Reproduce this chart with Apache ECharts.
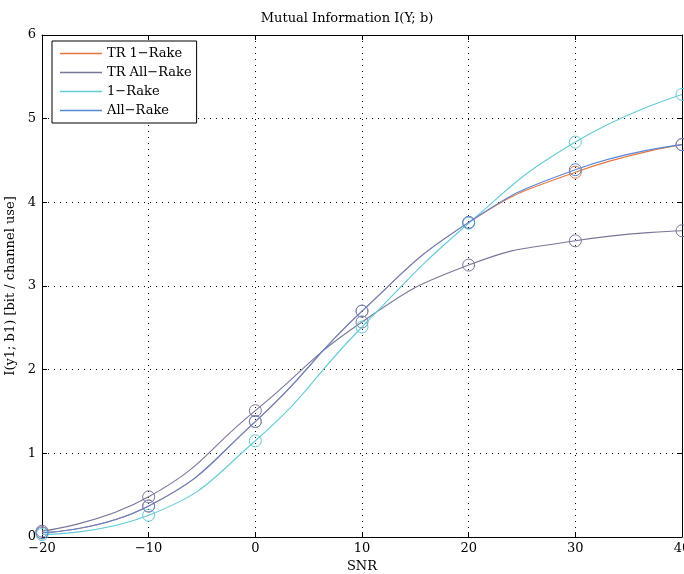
<!DOCTYPE html>
<html><head><meta charset="utf-8">
<script src="https://cdn.jsdelivr.net/npm/echarts@6/dist/echarts.min.js"></script>
<style>html,body{margin:0;padding:0;background:#fff}#c{width:684px;height:574px}</style>
</head><body><div id="c"></div>
<script>
const snr = [-20, -10, 0, 10, 20, 30, 40];
const tr1Rake   = [0.05, 0.37, 1.38, 2.70, 3.76, 4.36, 4.69];
const trAllRake = [0.07, 0.48, 1.51, 2.57, 3.25, 3.54, 3.66];
const oneRake   = [0.03, 0.26, 1.15, 2.51, 3.75, 4.72, 5.29];
const allRake   = [0.05, 0.37, 1.38, 2.70, 3.76, 4.39, 4.69];
const seriesNames = ['TR 1\u2212Rake', 'TR All\u2212Rake', '1\u2212Rake', 'All\u2212Rake'];
const seriesData = [tr1Rake, trAllRake, oneRake, allRake];
const colors = ['#e8763c', '#77779b', '#62cbd6', '#5a86d8'];

const font = 'DejaVu Serif';
const fs = 13;
const chart = echarts.init(document.getElementById('c'));
const series = seriesNames.map((n, i) => ({
  name: n, type: 'line', smooth: 0.5,
  data: snr.map((x, j) => [x, seriesData[i][j]]),
  symbol: 'circle', symbolSize: 12, showAllSymbol: true,
  lineStyle: { color: colors[i], width: 1.1 },
  itemStyle: { color: 'rgba(255,255,255,0)', borderColor: colors[i], borderWidth: 1 },
  emphasis: { disabled: true }, z: 3 + i
}));
const axisCommon = {
  axisLine: { show: true, onZero: false, lineStyle: { color: '#000', width: 1 } },
  axisTick: { show: true, inside: true, length: 5, lineStyle: { color: '#000' } },
};
chart.setOption({
  backgroundColor: '#fff',
  animation: false,
  title: { text: 'Mutual Information I(Y; b)', left: 342, top: 7, textAlign: 'center',
    textStyle: { fontFamily: font, fontSize: fs, fontWeight: 'normal', color: '#000' } },
  grid: { left: 42, right: 2, top: 35, bottom: 37, containLabel: false, outerBoundsMode: 'none' },
  legend: {
    left: 52, top: 41, orient: 'vertical', itemGap: 6,
    data: seriesNames.map((n, i) => ({ name: n, icon: 'rect', itemStyle: { color: colors[i], borderWidth: 0 } })),
    itemWidth: 42, itemHeight: 1.6, padding: [6, 5, 6, 8],
    backgroundColor: '#fff', borderColor: '#000', borderWidth: 1,
    textStyle: { fontFamily: font, fontSize: fs, color: '#000', padding: [0, 0, 0, 0] }
  },
  xAxis: [
    Object.assign({ type: 'value', min: -20, max: 40, interval: 10, position: 'bottom',
      name: 'SNR', nameLocation: 'middle', nameGap: 23,
      nameTextStyle: { fontFamily: font, fontSize: fs, color: '#000' },
      axisLabel: { fontFamily: font, fontSize: fs, color: '#000', margin: 5,
        formatter: v => (v < 0 ? '\u2212' + (-v) : '' + v) },
      splitLine: { show: true, lineStyle: { color: '#000', type: [1, 5], width: 1 } } }, axisCommon),
    Object.assign({ type: 'value', min: -20, max: 40, interval: 10, position: 'top',
      axisLabel: { show: false }, splitLine: { show: false } }, axisCommon)
  ],
  yAxis: [
    Object.assign({ type: 'value', min: 0, max: 6, interval: 1, position: 'left',
      name: 'I(y1; b1) [bit / channel use]', nameLocation: 'middle', nameGap: 19,
      nameTextStyle: { fontFamily: font, fontSize: fs, color: '#000' },
      axisLabel: { fontFamily: font, fontSize: fs, color: '#000', margin: 6 },
      splitLine: { show: true, lineStyle: { color: '#000', type: [1, 5], width: 1 } } }, axisCommon),
    Object.assign({ type: 'value', min: 0, max: 6, interval: 1, position: 'right',
      axisLabel: { show: false }, splitLine: { show: false } }, axisCommon)
  ],
  series: series
});
</script></body></html>
